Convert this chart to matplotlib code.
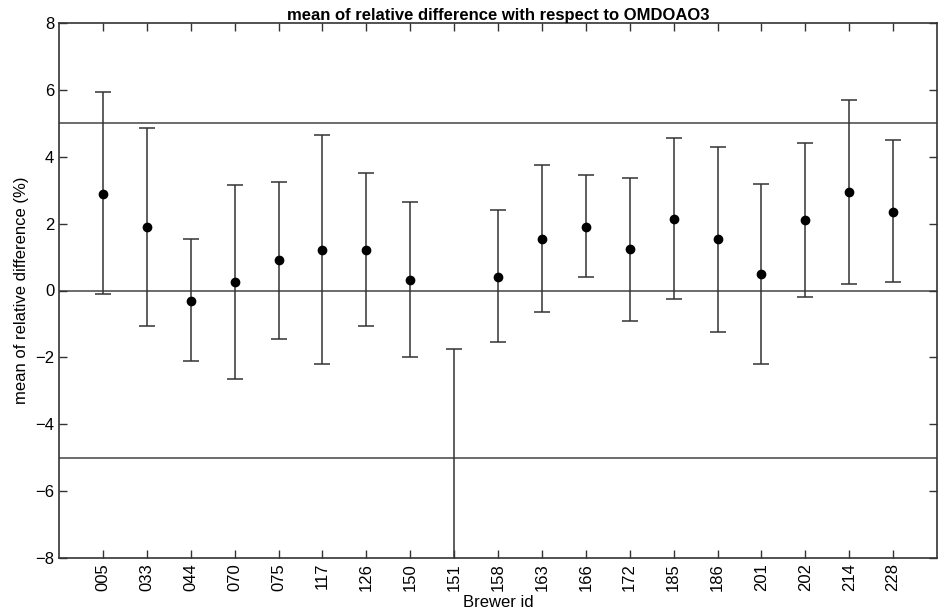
import matplotlib
matplotlib.use('Agg')
import matplotlib.pyplot as plt
import numpy as np

plt.rcParams['font.family'] = ['Liberation Sans', 'DejaVu Sans']

# brewer ids and statistics (%)
brewer_ids = ['005', '033', '044', '070', '075', '117', '126', '150', '151', '158',
              '163', '166', '172', '185', '186', '201', '202', '214', '228']
mean_diff = [2.9, 1.9, -0.3, 0.25, 0.9, 1.2, 1.2, 0.3, -11.0, 0.4,
             1.55, 1.9, 1.25, 2.15, 1.55, 0.5, 2.1, 2.95, 2.35]
upper = [5.95, 4.85, 1.55, 3.15, 3.25, 4.65, 3.5, 2.65, -1.75, 2.4,
         3.75, 3.45, 3.35, 4.55, 4.3, 3.2, 4.4, 5.7, 4.5]
lower = [-0.1, -1.05, -2.1, -2.65, -1.45, -2.2, -1.05, -2.0, -20.25, -1.55,
         -0.65, 0.4, -0.9, -0.25, -1.25, -2.2, -0.2, 0.2, 0.25]
ref_lines = [5, 0, -5]

x = np.arange(1, len(brewer_ids) + 1)
mean_diff = np.array(mean_diff)
yerr = [mean_diff - np.array(lower), np.array(upper) - mean_diff]

fig = plt.figure(figsize=(9.38, 6.15), dpi=100)
ax = fig.add_axes([59 / 938, 57 / 615, 878 / 938, 535 / 615])

for r in ref_lines:
    ax.axhline(r, color='#444444', lw=1.1, zorder=1)

ax.errorbar(x, mean_diff, yerr=yerr, fmt='o', color='black', ecolor='#333333',
            elinewidth=1.1, capsize=6, capthick=1.1, markersize=6, zorder=3)

ax.set_xlim(0, len(brewer_ids) + 1)
ax.set_ylim(-8, 8)
ax.set_xticks(x)
ax.set_xticklabels(brewer_ids, rotation=90, fontsize=12)
ax.set_yticks(np.arange(-8, 9, 2))
ax.set_yticklabels(['\u2212' + str(abs(v)) if v < 0 else str(v) for v in range(-8, 9, 2)], fontsize=12)
ax.tick_params(direction='in', length=6, width=1, top=True, right=True, color='#333333')
for s in ax.spines.values():
    s.set_color('#333333')
    s.set_linewidth(1.2)

ax.set_xlabel('Brewer id', fontsize=12, labelpad=3)
ax.set_ylabel('mean of relative difference (%)', fontsize=12, labelpad=4)
ax.set_title('mean of relative difference with respect to OMDOAO3', fontsize=12,
             fontweight='bold', pad=2)

fig.savefig('out.png', dpi=100)
